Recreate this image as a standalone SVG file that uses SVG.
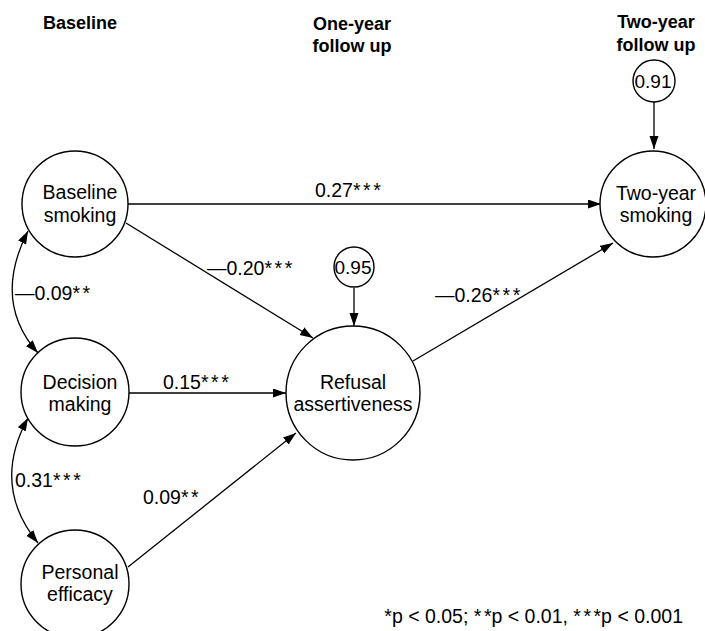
<svg xmlns="http://www.w3.org/2000/svg" width="705" height="631" viewBox="0 0 705 631">
<defs>
<marker id="ah" markerWidth="14" markerHeight="10" refX="13" refY="4.5" orient="auto-start-reverse" markerUnits="userSpaceOnUse">
<path d="M0,0 L13,4.5 L0,9 Z" fill="#000"/>
</marker>
<style>
.n{fill:#fff;stroke:#000;stroke-width:1.4}
.t{font-family:"Liberation Sans",Arial,sans-serif;font-size:19.5px;fill:#000;text-anchor:middle}
.e{font-family:"Liberation Sans",Arial,sans-serif;font-size:19.5px;fill:#000}
.h{font-family:"Liberation Sans",Arial,sans-serif;font-size:18px;font-weight:bold;fill:#000;text-anchor:middle}
.c{fill:none;stroke:#000;stroke-width:1.3}
.r{font-family:"Liberation Sans",Arial,sans-serif;font-size:19px;fill:#000;text-anchor:middle}
.s{letter-spacing:2.5px}
</style>
</defs>
<rect width="705" height="631" fill="#fff"/>
<g id="headers">
<text class="h" x="80" y="29">Baseline</text>
<text class="h" x="352" y="30">One-year</text>
<text class="h" x="352" y="52">follow up</text>
<text class="h" x="656" y="28">Two-year</text>
<text class="h" x="656" y="51">follow up</text>
</g>
<g id="connectors">
<line class="c" x1="654" y1="102" x2="654" y2="149" marker-end="url(#ah)"/>
<line class="c" x1="354" y1="288" x2="354" y2="326" marker-end="url(#ah)"/>
<line class="c" x1="128" y1="204" x2="601" y2="204" marker-end="url(#ah)"/>
<line class="c" x1="126" y1="223" x2="313" y2="338" marker-end="url(#ah)"/>
<line class="c" x1="129" y1="393" x2="286" y2="393" marker-end="url(#ah)"/>
<line class="c" x1="128" y1="567" x2="296" y2="433" marker-end="url(#ah)"/>
<line class="c" x1="413" y1="361" x2="613" y2="243" marker-end="url(#ah)"/>
<path class="c" d="M28,231 Q-8,301.5 38,353" marker-start="url(#ah)" marker-end="url(#ah)"/>
<path class="c" d="M28,418 Q-9,485.5 38,543" marker-start="url(#ah)" marker-end="url(#ah)"/>
<text class="e" x="315" y="197">0.27<tspan class="s">***</tspan></text>
<text class="e" x="207" y="275">—0.20<tspan class="s">***</tspan></text>
<text class="e" x="163" y="389">0.15<tspan class="s">***</tspan></text>
<text class="e" x="143" y="504">0.09<tspan class="s">**</tspan></text>
<text class="e" x="435" y="302">—0.26<tspan class="s">***</tspan></text>
<text class="e" x="15" y="300">—0.09<tspan class="s">**</tspan></text>
<text class="e" x="15" y="487">0.31<tspan class="s">***</tspan></text>
</g>
<g id="node-baseline-smoking">
<circle class="n" cx="75" cy="204" r="53"/>
<text class="t" x="80" y="199">Baseline</text>
<text class="t" x="80" y="222">smoking</text>
</g>
<g id="node-decision-making">
<circle class="n" cx="75" cy="392" r="54"/>
<text class="t" x="80" y="389">Decision</text>
<text class="t" x="80" y="411">making</text>
</g>
<g id="node-personal-efficacy">
<circle class="n" cx="75" cy="584" r="54"/>
<text class="t" x="80" y="579">Personal</text>
<text class="t" x="80" y="601">efficacy</text>
</g>
<g id="node-refusal-assertiveness">
<circle class="n" cx="353" cy="393" r="67"/>
<text class="t" x="353" y="389">Refusal</text>
<text class="t" x="353" y="411">assertiveness</text>
</g>
<g id="node-two-year-smoking">
<circle class="n" cx="653" cy="204" r="53"/>
<text class="t" x="656" y="200">Two-year</text>
<text class="t" x="656" y="222">smoking</text>
</g>
<g id="node-e1">
<circle class="n" cx="654" cy="81" r="21"/>
<text class="r" x="653" y="88">0.91</text>
</g>
<g id="node-e2">
<circle class="n" cx="354" cy="267" r="20"/>
<text class="r" x="353" y="274">0.95</text>
</g>
<g id="note">
<text class="e" x="683" y="623" text-anchor="end">*p &lt; 0.05; <tspan class="s">*</tspan>*p &lt; 0.01, <tspan class="s">**</tspan>*p &lt; 0.001</text>
</g>
</svg>
